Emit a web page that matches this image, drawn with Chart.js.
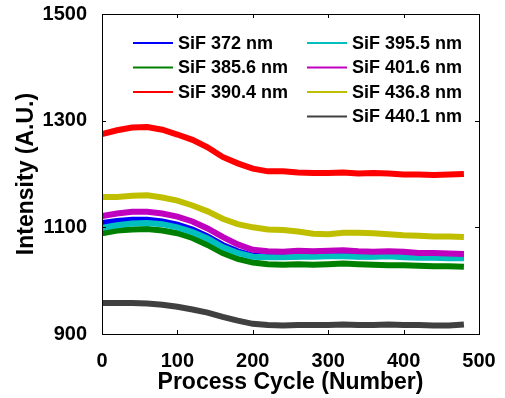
<!DOCTYPE html>
<html><head><meta charset="utf-8">
<script src="https://cdn.jsdelivr.net/npm/chart.js@4/dist/chart.umd.min.js"></script>
<style>html,body{margin:0;padding:0;background:#fff}#wrap{width:505px;height:398px}</style>
</head><body><div id="wrap"><canvas id="c" width="505" height="398"></canvas></div>
<script>
const cycles = [0,20,40,60,80,100,120,140,160,180,200,220,240,260,280,300,320,340,360,380,400,420,440,460,480];
const labels = ["SiF 372 nm","SiF 385.6 nm","SiF 390.4 nm","SiF 395.5 nm","SiF 401.6 nm","SiF 436.8 nm","SiF 440.1 nm"];
const sif372  = [1108,1112,1114,1114,1111,1105,1096,1083,1067,1055,1047,1045,1046,1046,1047,1048,1047,1046,1046,1047,1046,1045,1045,1044,1044];
const sif3856 = [1089,1094,1096,1097,1094,1089,1080,1067,1052,1041,1034,1031,1030,1031,1030,1031,1032,1031,1030,1029,1029,1028,1027,1027,1026];
const sif3904 = [1275,1282,1287,1288,1283,1274,1264,1250,1232,1220,1210,1205,1205,1203,1202,1202,1203,1201,1202,1201,1199,1199,1198,1199,1200];
const sif3955 = [1099,1104,1107,1108,1106,1100,1091,1079,1063,1052,1045,1044,1044,1045,1045,1046,1046,1045,1045,1046,1044,1043,1043,1042,1042];
const sif4016 = [1121,1126,1129,1129,1126,1120,1111,1098,1082,1068,1058,1055,1054,1056,1055,1056,1057,1055,1054,1055,1054,1052,1052,1051,1050];
const sif4368 = [1157,1157,1159,1160,1156,1150,1141,1130,1116,1106,1100,1096,1095,1092,1088,1087,1090,1090,1089,1087,1085,1084,1083,1083,1082];
const sif4401 = [958,958,958,957,955,951,946,940,932,925,919,917,916,917,917,917,918,917,917,918,917,917,916,916,918];
const xTicks = [0,100,200,300,400,500];
const yTicks = [900,1100,1300,1500];
const colors = ["#0000ff","#008000","#ff0000","#00bfbf","#bf00bf","#bfbf00","#404040"];
const series = [sif372,sif3856,sif3904,sif3955,sif4016,sif4368,sif4401];

const FONT = "'Liberation Sans', Arial, sans-serif";

const datasets = series.map((s,i)=>({
  label: labels[i],
  data: s.map((v,j)=>({x:cycles[j], y:v})),
  borderColor: colors[i],
  backgroundColor: colors[i],
  borderWidth: 6,
  pointRadius: 0,
  tension: 0,
  order: series.length - i
}));

const boxPlugin = {
  id:'box',
  afterDraw(chart){
    const ctx = chart.ctx, a = chart.chartArea;
    const xs = chart.scales.x, ys = chart.scales.y;
    ctx.save();
    ctx.strokeStyle = '#000'; ctx.lineWidth = 1;
    ctx.strokeRect(Math.round(a.left)+0.5, Math.round(a.top)+0.5, Math.round(a.right-a.left), Math.round(a.bottom-a.top));
    const tl = 4;
    ctx.beginPath();
    xTicks.forEach(v=>{
      const px = Math.round(xs.getPixelForValue(v))+0.5;
      ctx.moveTo(px, a.bottom); ctx.lineTo(px, a.bottom - tl);
      ctx.moveTo(px, a.top); ctx.lineTo(px, a.top + tl);
    });
    yTicks.forEach(v=>{
      const py = Math.round(ys.getPixelForValue(v))+0.5;
      ctx.moveTo(a.left, py); ctx.lineTo(a.left + tl, py);
      ctx.moveTo(a.right, py); ctx.lineTo(a.right - tl, py);
    });
    ctx.stroke();
    // legend (two columns, column-major)
    const cols = [[0,1,2],[3,4,5,6]];
    const colX = [133, 307];
    const lineLen = 40;
    const rowY0 = 43, rowDy = 24.5;
    ctx.font = "bold 18px " + FONT;
    ctx.textBaseline = 'middle';
    ctx.textAlign = 'left';
    cols.forEach((col,ci)=>{
      col.forEach((di,ri)=>{
        const y = rowY0 + ri*rowDy;
        ctx.strokeStyle = colors[di]; ctx.lineWidth = 2;
        ctx.beginPath(); ctx.moveTo(colX[ci], y); ctx.lineTo(colX[ci]+lineLen, y); ctx.stroke();
        ctx.fillStyle = '#000';
        ctx.fillText(labels[di], colX[ci]+lineLen+5, y+1);
      });
    });
    ctx.restore();
  }
};

new Chart(document.getElementById('c'), {
  type:'line',
  data:{datasets},
  options:{
    responsive:false, animation:false,
    layout:{padding:{left:0, top:14, right:26, bottom:0}},
    plugins:{legend:{display:false}, tooltip:{enabled:false}},
    scales:{
      x:{type:'linear', min:0, max:500,
        afterBuildTicks(s){ s.ticks = xTicks.map(v=>({value:v})); },
        afterFit(s){ s.height = 64; s.paddingLeft = 0; s.paddingRight = 0; },
        grid:{display:false}, border:{display:false},
        ticks:{color:'#000', padding:7, maxRotation:0, callback:v=>String(v), font:{family:FONT, size:20, weight:'bold'}},
        title:{display:true, text:'Process Cycle (Number)', color:'#000', font:{family:FONT, size:23, weight:'bold'}, padding:{top:0,bottom:2}}
      },
      y:{type:'linear', min:900, max:1500,
        afterBuildTicks(s){ s.ticks = yTicks.map(v=>({value:v})); },
        afterFit(s){ s.width = 102; s.paddingTop = 0; s.paddingBottom = 0; },
        grid:{display:false}, border:{display:false},
        ticks:{color:'#000', padding:7, callback:v=>String(v), font:{family:FONT, size:20, weight:'bold'}},
        title:{display:true, text:'Intensity (A.U.)', color:'#000', font:{family:FONT, size:23, weight:'bold'}, padding:{top:13,bottom:0}}
      }
    }
  },
  plugins:[boxPlugin]
});
</script></body></html>
